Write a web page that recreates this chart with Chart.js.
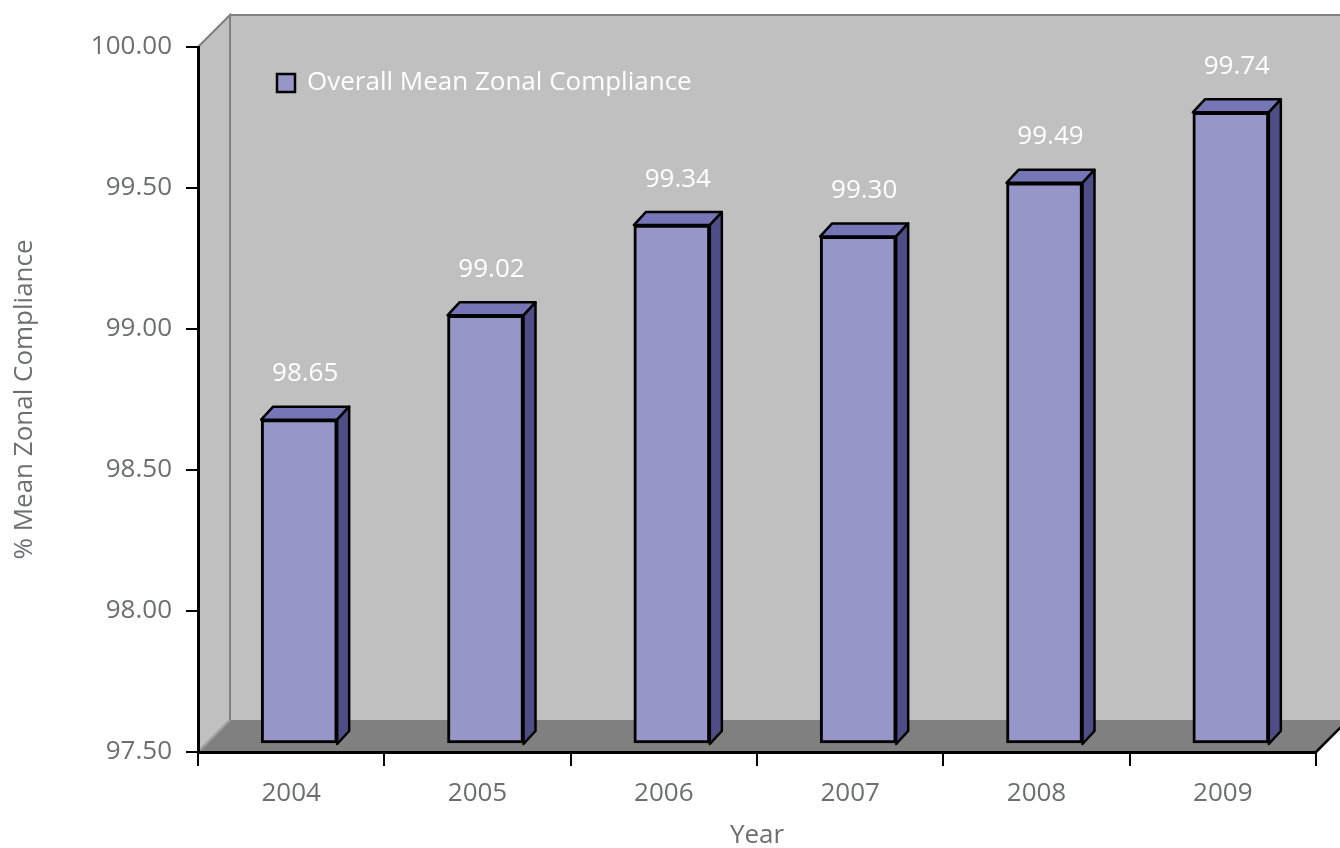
<!DOCTYPE html>
<html>
<head>
<meta charset="utf-8">
<script src="https://cdn.jsdelivr.net/npm/chart.js@4/dist/chart.umd.min.js"></script>
<style>
  body { margin: 0; background: #fff; }
  #wrap { width: 1340px; height: 848px; }
</style>
</head>
<body>
<div id="wrap"><canvas id="graph" width="1340" height="848"></canvas></div>
<script>
const annees = ['2004', '2005', '2006', '2007', '2008', '2009']
const conformite = [98.65, 99.02, 99.34, 99.30, 99.49, 99.74]
const nomSerie = 'Overall Mean Zonal Compliance'

const POLICE = "'Open Sans', sans-serif"
const GRIS_TEXTE = '#6d6e71'
const FACE = '#9696c8', DESSUS = '#7676b6', COTE = '#4e4e84'
const PROF = 32      // profondeur du mur du fond
const DECAL = 8      // decalage de la face avant des barres
const EP = 12        // epaisseur des barres

// murs, sol et barres en pseudo 3D
const decor3d = {
  id: 'decor3d',
  beforeDraw(chart) {
    const { ctx, chartArea: a } = chart
    ctx.save()
    // mur du fond
    ctx.fillStyle = '#c0c0c0'
    ctx.fillRect(a.left + PROF, a.top - PROF, chart.width, a.bottom - a.top)
    // mur de cote
    ctx.beginPath()
    ctx.moveTo(a.left, a.top)
    ctx.lineTo(a.left + PROF, a.top - PROF)
    ctx.lineTo(a.left + PROF, a.bottom - PROF)
    ctx.lineTo(a.left, a.bottom)
    ctx.closePath()
    ctx.fill()
    ctx.strokeStyle = '#808080'
    ctx.lineWidth = 2
    ctx.stroke()
    ctx.beginPath()
    ctx.moveTo(a.left + PROF, a.top - PROF)
    ctx.lineTo(chart.width, a.top - PROF)
    ctx.stroke()
    // sol
    ctx.fillStyle = '#808080'
    ctx.beginPath()
    ctx.moveTo(a.left, a.bottom)
    ctx.lineTo(a.left + PROF, a.bottom - PROF)
    ctx.lineTo(a.right + PROF, a.bottom - PROF)
    ctx.lineTo(a.right, a.bottom)
    ctx.closePath()
    ctx.fill()
    ctx.strokeStyle = '#a0a0a0'
    ctx.beginPath()
    ctx.moveTo(a.left, a.bottom)
    ctx.lineTo(a.left + PROF, a.bottom - PROF)
    ctx.stroke()
    ctx.strokeStyle = '#000'
    ctx.lineWidth = 2.5
    ctx.beginPath()
    ctx.moveTo(a.right, a.bottom)
    ctx.lineTo(a.right + PROF, a.bottom - PROF)
    ctx.stroke()
    // legende
    ctx.fillStyle = FACE
    ctx.fillRect(a.left + 79, a.top + 27, 18, 18)
    ctx.strokeRect(a.left + 79, a.top + 27, 18, 18)
    ctx.fillStyle = '#fff'
    ctx.font = '26px ' + POLICE
    ctx.textBaseline = 'middle'
    ctx.fillText(nomSerie, a.left + 109, a.top + 36)
    ctx.restore()
  },
  beforeDatasetsDraw(chart) {
    chart.ctx.save()
    chart.ctx.translate(DECAL, -DECAL)
  },
  afterDatasetsDraw(chart) {
    const ctx = chart.ctx
    const meta = chart.getDatasetMeta(0)
    const bas = chart.scales.y.getPixelForValue(chart.scales.y.min)
    ctx.lineWidth = 2.5
    ctx.strokeStyle = '#000'
    ctx.lineJoin = 'round'
    meta.data.forEach((bar, i) => {
      const g = bar.x - bar.width / 2, d = bar.x + bar.width / 2
      const h = bar.y
      ctx.fillStyle = DESSUS
      ctx.beginPath()
      ctx.moveTo(g, h); ctx.lineTo(g + EP, h - EP - 1); ctx.lineTo(d + EP, h - EP - 1); ctx.lineTo(d, h)
      ctx.closePath(); ctx.fill(); ctx.stroke()
      ctx.fillStyle = COTE
      ctx.beginPath()
      ctx.moveTo(d, h); ctx.lineTo(d + EP, h - EP - 1); ctx.lineTo(d + EP, bas - EP - 1); ctx.lineTo(d, bas)
      ctx.closePath(); ctx.fill(); ctx.stroke()
      // valeur au-dessus de la barre
      ctx.fillStyle = '#fff'
      ctx.font = '26px ' + POLICE
      ctx.textAlign = 'center'
      ctx.textBaseline = 'middle'
      ctx.fillText(conformite[i].toFixed(2), bar.x + 6, h - 46)
    })
    ctx.restore()
  }
}

new Chart(document.getElementById('graph'), {
  type: 'bar',
  data: {
    labels: annees,
    datasets: [{
      label: nomSerie,
      data: conformite,
      base: 97.5,
      backgroundColor: FACE,
      borderColor: '#000',
      borderWidth: 3,
      borderSkipped: false,
      barThickness: 76
    }]
  },
  options: {
    responsive: false,
    animation: false,
    layout: { padding: { top: 47, right: 24, left: 0, bottom: 0 } },
    plugins: { legend: { display: false }, tooltip: { enabled: false } },
    scales: {
      x: {
        grid: { display: true, drawOnChartArea: false, drawTicks: true, tickLength: 14, color: '#000', lineWidth: 2 },
        border: { display: true, color: '#000', width: 3 },
        ticks: { color: GRIS_TEXTE, font: { family: POLICE, size: 26 }, padding: 12 },
        title: { display: true, text: 'Year', color: GRIS_TEXTE, font: { family: POLICE, size: 26 }, padding: { top: 0, bottom: -3 } },
        afterFit: s => { s.height = 96 }
      },
      y: {
        min: 97.5,
        max: 100,
        grid: { display: true, drawOnChartArea: false, drawTicks: true, tickLength: 12, color: '#000', lineWidth: 2 },
        border: { display: true, color: '#000', width: 3 },
        ticks: { stepSize: 0.5, color: GRIS_TEXTE, font: { family: POLICE, size: 26 }, padding: 14, callback: v => v.toFixed(2) },
        title: { display: true, text: '% Mean Zonal Compliance', color: GRIS_TEXTE, font: { family: POLICE, size: 26 }, padding: { top: 9, bottom: 0 } },
        afterFit: s => { s.width = 198 }
      }
    }
  },
  plugins: [decor3d]
})
</script>
</body>
</html>
